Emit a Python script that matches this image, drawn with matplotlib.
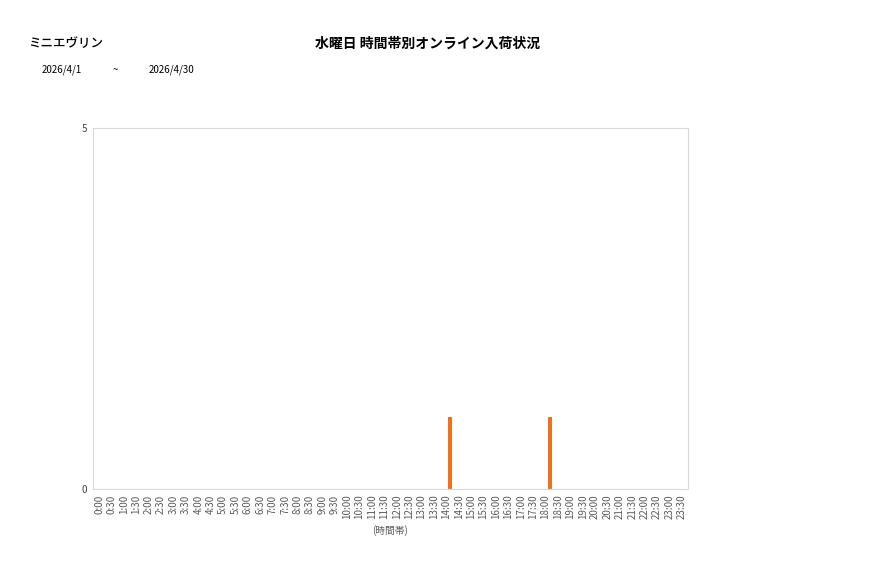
import numpy as np
import matplotlib
matplotlib.use("Agg")
import matplotlib.pyplot as plt

plt.rcParams['font.family'] = ['Noto Sans CJK JP', 'DejaVu Sans']

slots = ["%d:%s" % (h, m) for h in range(24) for m in ("00", "30")]
# online arrivals per time slot (second series of the clustered bar)
arrivals = [0] * 48
arrivals[slots.index("14:00")] = 1
arrivals[slots.index("18:00")] = 1

shop = "ミニエヴリン"
title = "水曜日 時間帯別オンライン入荷状況"
date_from = "2026/4/1"
date_to = "2026/4/30"

fig = plt.figure(figsize=(8.77, 5.78), dpi=100)
ax = fig.add_axes([0.106, 0.154, 0.6785, 0.6245])

x = np.arange(len(slots))
ax.bar(x + 0.33, arrivals, width=0.32, color="#F07020")

ax.set_xlim(-0.5, 47.5)
ax.set_ylim(0, 5)
ax.set_yticks([0, 5])
ax.set_xticks(x)
ax.set_xticklabels(slots, rotation=90, fontsize=7, color="#595959")
ax.tick_params(axis='y', labelsize=7, labelcolor="#404040")
ax.tick_params(length=0, pad=4)
for s in ax.spines.values():
    s.set_color("#D9D9D9")
ax.set_xlabel("(時間帯)", fontsize=7, color="#595959", labelpad=4)

fig.text(0.032, 0.925, shop, fontsize=9, fontweight="medium", va="center")
fig.text(0.488, 0.925, title, fontsize=10, fontweight="bold", ha="center", va="center")
fig.text(0.048, 0.879, date_from, fontsize=7, va="center")
fig.text(0.128, 0.879, "~", fontsize=7, va="center")
fig.text(0.169, 0.879, date_to, fontsize=7, va="center")

fig.savefig("out.png", dpi=100)
